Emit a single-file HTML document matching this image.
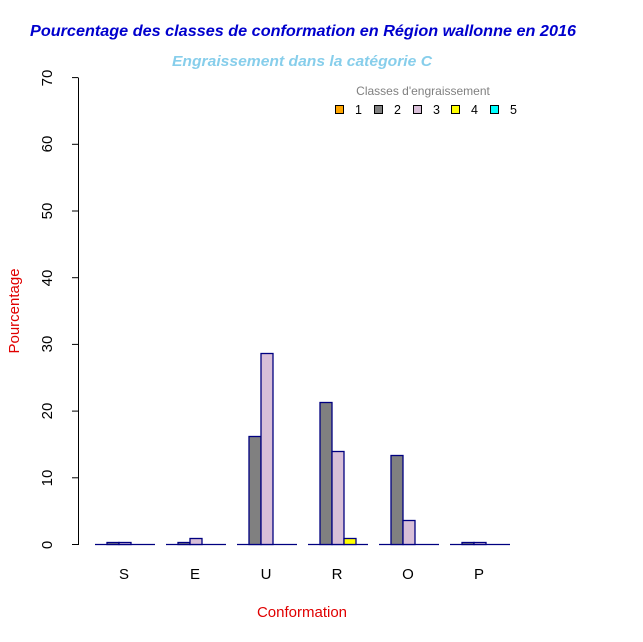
<!DOCTYPE html>
<html><head><meta charset="utf-8"><style>body{margin:0;background:#fff}svg{display:block}</style></head><body>
<svg width="643" height="642" xmlns="http://www.w3.org/2000/svg" font-family="Liberation Sans, Arial, sans-serif">
<rect width="643" height="642" fill="#fff"/>
<text x="30" y="36" textLength="546" lengthAdjust="spacingAndGlyphs" font-size="16" font-weight="bold" font-style="italic" fill="#0000cd">Pourcentage des classes de conformation en Région wallonne en 2016</text>
<text x="172" y="66" textLength="260" lengthAdjust="spacingAndGlyphs" font-size="15" font-weight="bold" font-style="italic" fill="#87ceeb">Engraissement dans la catégorie C</text>
<text x="302" y="617" text-anchor="middle" font-size="15" fill="#e00000">Conformation</text>
<text transform="translate(19,311) rotate(-90)" text-anchor="middle" font-size="15" fill="#e00000">Pourcentage</text>
<g stroke="#000" stroke-width="1">
<line x1="78.5" y1="78" x2="78.5" y2="545"/>
<line x1="72" y1="544.5" x2="78.5" y2="544.5"/><line x1="72" y1="477.8" x2="78.5" y2="477.8"/>
<line x1="72" y1="411.1" x2="78.5" y2="411.1"/><line x1="72" y1="344.4" x2="78.5" y2="344.4"/>
<line x1="72" y1="277.7" x2="78.5" y2="277.7"/><line x1="72" y1="211" x2="78.5" y2="211"/>
<line x1="72" y1="144.3" x2="78.5" y2="144.3"/><line x1="72" y1="77.6" x2="78.5" y2="77.6"/>
</g>
<g font-size="15" fill="#000" text-anchor="middle">
<text transform="translate(52,545) rotate(-90)">0</text>
<text transform="translate(52,478) rotate(-90)">10</text>
<text transform="translate(52,411) rotate(-90)">20</text>
<text transform="translate(52,344) rotate(-90)">30</text>
<text transform="translate(52,278) rotate(-90)">40</text>
<text transform="translate(52,211) rotate(-90)">50</text>
<text transform="translate(52,144) rotate(-90)">60</text>
<text transform="translate(52,78) rotate(-90)">70</text>
<text x="124" y="579">S</text><text x="195" y="579">E</text><text x="266" y="579">U</text>
<text x="337" y="579">R</text><text x="408" y="579">O</text><text x="479" y="579">P</text>
</g>
<g stroke="#000080" stroke-width="1.3">
<line x1="95" y1="544.5" x2="155" y2="544.5"/><line x1="166" y1="544.5" x2="226" y2="544.5"/>
<line x1="237" y1="544.5" x2="297" y2="544.5"/><line x1="308" y1="544.5" x2="368" y2="544.5"/>
<line x1="379" y1="544.5" x2="439" y2="544.5"/><line x1="450" y1="544.5" x2="510" y2="544.5"/>
<rect x="107" y="542.5" width="12" height="2" fill="#808080"/><rect x="119" y="542.5" width="12" height="2" fill="#d8bfd8"/>
<rect x="178" y="542.5" width="12" height="2" fill="#808080"/><rect x="190" y="538.5" width="12" height="6" fill="#d8bfd8"/>
<rect x="249" y="436.5" width="12" height="108" fill="#808080"/><rect x="261" y="353.5" width="12" height="191" fill="#d8bfd8"/>
<rect x="320" y="402.5" width="12" height="142" fill="#808080"/><rect x="332" y="451.5" width="12" height="93" fill="#d8bfd8"/>
<rect x="344" y="538.5" width="12" height="6" fill="#ffff00"/>
<rect x="391" y="455.5" width="12" height="89" fill="#808080"/><rect x="403" y="520.5" width="12" height="24" fill="#d8bfd8"/>
<rect x="462" y="542.5" width="12" height="2" fill="#808080"/><rect x="474" y="542.5" width="12" height="2" fill="#d8bfd8"/>
</g>
<text x="423" y="95" text-anchor="middle" font-size="12" fill="#808080">Classes d'engraissement</text>
<g stroke="#000" stroke-width="1">
<rect x="335.5" y="105.5" width="8" height="8" fill="#ffa500"/>
<rect x="374.5" y="105.5" width="8" height="8" fill="#808080"/>
<rect x="413.5" y="105.5" width="8" height="8" fill="#d8bfd8"/>
<rect x="451.5" y="105.5" width="8" height="8" fill="#ffff00"/>
<rect x="490.5" y="105.5" width="8" height="8" fill="#00ffff"/>
</g>
<g font-size="12.5" fill="#000">
<text x="355" y="114">1</text><text x="394" y="114">2</text><text x="433" y="114">3</text><text x="471" y="114">4</text><text x="510" y="114">5</text>
</g>
</svg>
</body></html>
